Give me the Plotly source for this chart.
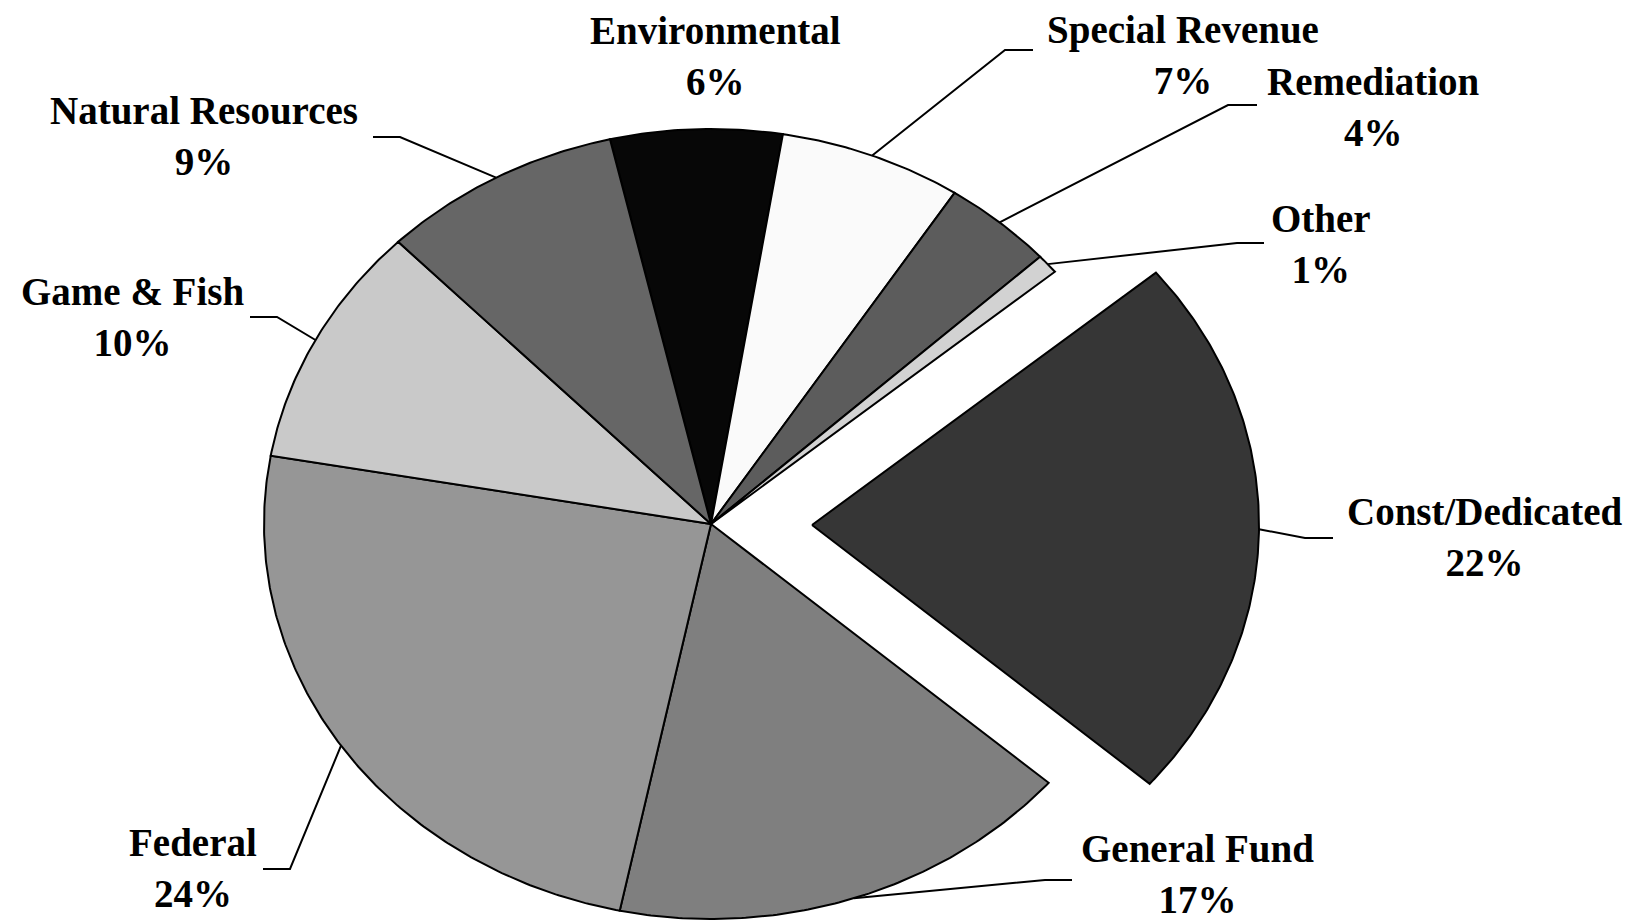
import numpy as np
import plotly.graph_objects as go

# ---- data ----
categories = ["Environmental", "Special Revenue", "Remediation", "Other",
              "Const/Dedicated", "General Fund", "Federal", "Game & Fish",
              "Natural Resources"]
shares = [6.2, 6.6, 4.0, 0.8, 22.4, 16.9, 24.49, 9.9, 8.71]

# ---- styles ----
colors = ["#070707", "#fafafa", "#5c5c5c", "#d2d2d2", "#363636",
          "#7f7f7f", "#969696", "#c9c9c9", "#666666"]
pull = [0, 0, 0, 0, 0.226, 0, 0, 0, 0]

# ---- layout constants (pixels) ----
W, H = 1649, 922
PAGE_OFF = 8  # default body margin of the html page
CX, CY, RX, RY = 711, 524, 447, 395
START = -13.06  # degrees clockwise from 12 o'clock
FONT = dict(family="Liberation Serif, Times New Roman, serif", size=39, color="black", weight="bold")

# label centre (x, y) and leader knee (kx, ky, horizontal end x)
label_layout = {
    "Environmental": ((715, 56), None),
    "Special Revenue": ((1183, 55), (1005, 50, 1033)),
    "Remediation": ((1373, 107), (1228, 105, 1257)),
    "Other": ((1321, 244), (1237, 243, 1264)),
    "Const/Dedicated": ((1484, 537), (1305, 538, 1333)),
    "General Fund": ((1197, 874), (1045, 880, 1072)),
    "Federal": ((193, 868), (290, 869, 263)),
    "Game & Fish": ((132, 317), (277, 317, 250)),
    "Natural Resources": ((204, 136), (400, 137, 373)),
}


def pt(theta_deg, ox=0.0, oy=0.0, r=1.0):
    t = np.radians(theta_deg)
    return CX + ox + r * RX * np.sin(t), CY + oy - r * RY * np.cos(t)


total = float(sum(shares))
fig = go.Figure()
annotations = []
a0 = START
for name, v, col, p in zip(categories, shares, colors, pull):
    span = 360.0 * v / total
    a1 = a0 + span
    mid = (a0 + a1) / 2
    mt = np.radians(mid)
    ox, oy = p * RX * np.sin(mt), -p * RY * np.cos(mt)
    n = max(4, int(span / 0.5))
    th = np.linspace(a0, a1, n)
    xs, ys = pt(th, ox, oy)
    px = np.concatenate([[CX + ox], xs, [CX + ox]])
    py = np.concatenate([[CY + oy], ys, [CY + oy]])
    fig.add_trace(go.Scatter(x=px, y=py, mode="lines", fill="toself",
                             fillcolor=col, line=dict(color="black", width=2),
                             name=name, hoverinfo="text",
                             text=f"{name}: {round(v)}%", showlegend=False))
    (lx, ly), knee = label_layout[name]
    if knee is not None:
        ax_, ay_ = pt(mid, ox, oy)
        kx, ky, hx = knee
        fig.add_trace(go.Scatter(x=[ax_, kx, hx], y=[ay_, ky, ky], mode="lines",
                                 line=dict(color="black", width=2),
                                 hoverinfo="skip", showlegend=False))
    annotations.append(dict(x=lx, y=ly, xref="x", yref="y", showarrow=False,
                            text=f"{name}<br>{round(v)}%", font=FONT,
                            xanchor="center", yanchor="middle", align="center",
                            borderpad=0))
    a0 = a1

fig.update_layout(
    width=W, height=H, margin=dict(l=0, r=0, t=0, b=0),
    paper_bgcolor="white", plot_bgcolor="white",
    xaxis=dict(range=[PAGE_OFF, W + PAGE_OFF], visible=False, fixedrange=True),
    yaxis=dict(range=[H + PAGE_OFF, PAGE_OFF], visible=False, fixedrange=True),
    annotations=annotations, showlegend=False,
)
fig.write_html("out.html")
